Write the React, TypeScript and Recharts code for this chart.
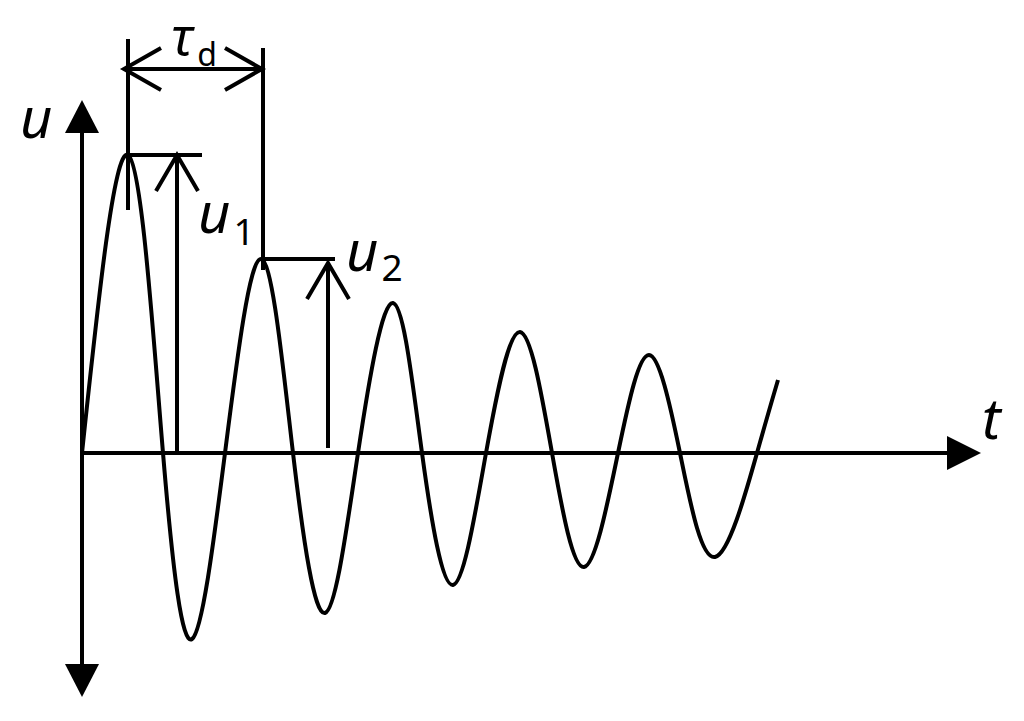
import { LineChart, Line, XAxis, YAxis, ReferenceLine, ReferenceDot } from "recharts";

// damped oscillation: peaks, troughs and zero crossings
const times = [0, 4.6, 8.1, 11.0, 14.3, 17.9, 21.1, 24.3, 27.6, 31.1, 34.0, 37.1, 40.4, 43.8, 47.0, 50.2, 53.6, 56.7, 59.8, 63.3, 67.5, 69.6];
const volts = [0, 29.8, 0, -18.6, 0, 19.4, 0, -16.0, 0, 15.0, 0, -13.2, 0, 12.1, 0, -11.4, 0, 9.8, 0, -10.4, 0, 7.3];

const data = times.map((t, i) => ({ t, u: volts[i] }));

// first two peaks used by the u1 / u2 / tau_d annotations
const peak1 = { t: 4.6, u: 29.8 };
const peak2 = { t: 17.9, u: 19.4 };

const INK = "#000";
const SW = 4;
const FONT = "'Noto Sans', 'Open Sans', sans-serif";

const Triangle = ({ cx, cy, dir }: any) => {
  let pts = "";
  if (dir === "up") pts = `${cx},${cy} ${cx - 17},${cy + 33} ${cx + 17},${cy + 33}`;
  if (dir === "down") pts = `${cx},${cy} ${cx - 17},${cy - 33} ${cx + 17},${cy - 33}`;
  if (dir === "right") pts = `${cx},${cy} ${cx - 34},${cy - 17} ${cx - 34},${cy + 17}`;
  return <polygon points={pts} fill={INK} />;
};

const Chevron = ({ cx, cy, dir }: any) => {
  let pts = "";
  if (dir === "up") pts = `${cx - 21},${cy + 36} ${cx},${cy} ${cx + 21},${cy + 36}`;
  if (dir === "left") pts = `${cx + 37},${cy - 21} ${cx},${cy} ${cx + 37},${cy + 21}`;
  if (dir === "right") pts = `${cx - 37},${cy - 21} ${cx},${cy} ${cx - 37},${cy + 21}`;
  return <polyline points={pts} fill="none" stroke={INK} strokeWidth={SW} strokeLinejoin="miter" />;
};

const Label = ({ cx, cy, main, sub, size = 56, subSize = 37, subDy = 12, subDx = 3 }: any) => (
  <text x={cx} y={cy} fontFamily={FONT} fill={INK}>
    <tspan fontSize={size} fontStyle="italic">{main}</tspan>
    {sub && (
      <tspan fontSize={subSize} dx={subDx} dy={subDy}>
        {sub}
      </tspan>
    )}
  </text>
);

export default function App() {
  return (
    <div style={{ position: "absolute", left: 0, top: 0, background: "#fff" }}>
      <LineChart width={1024} height={721} data={data} margin={{ top: 0, right: 0, bottom: 0, left: 0 }}>
        <XAxis dataKey="t" type="number" domain={[-8.2, 94.2]} allowDataOverflow hide />
        <YAxis type="number" domain={[-26.8, 45.3]} allowDataOverflow hide />

        <Line
          type="natural"
          dataKey="u"
          stroke={INK}
          strokeWidth={SW}
          dot={false}
          activeDot={false}
          isAnimationActive={false}
        />

        {/* axes */}
        <ReferenceLine segment={[{ x: 0, y: -21.1 }, { x: 0, y: 32.0 }]} stroke={INK} strokeWidth={SW} />
        <ReferenceLine segment={[{ x: -0.2, y: 0 }, { x: 86.5, y: 0 }]} stroke={INK} strokeWidth={SW} />
        <ReferenceDot x={0} y={35.3} shape={(p: any) => <Triangle {...p} dir="up" />} />
        <ReferenceDot x={0} y={-24.4} shape={(p: any) => <Triangle {...p} dir="down" />} />
        <ReferenceDot x={89.9} y={0} shape={(p: any) => <Triangle {...p} dir="right" />} />

        {/* tau_d dimension */}
        <ReferenceLine segment={[{ x: peak1.t, y: 24.3 }, { x: peak1.t, y: 41.4 }]} stroke={INK} strokeWidth={SW} />
        <ReferenceLine segment={[{ x: 18.1, y: 18.3 }, { x: 18.1, y: 40.5 }]} stroke={INK} strokeWidth={SW} />
        <ReferenceLine segment={[{ x: 4.2, y: 38.4 }, { x: 18.0, y: 38.4 }]} stroke={INK} strokeWidth={SW} />
        <ReferenceDot x={4.2} y={38.4} shape={(p: any) => <Chevron {...p} dir="left" />} />
        <ReferenceDot x={18.0} y={38.4} shape={(p: any) => <Chevron {...p} dir="right" />} />

        {/* u1 */}
        <ReferenceLine segment={[{ x: peak1.t, y: peak1.u }, { x: 12.0, y: peak1.u }]} stroke={INK} strokeWidth={SW} />
        <ReferenceLine segment={[{ x: 9.5, y: 0 }, { x: 9.5, y: peak1.u }]} stroke={INK} strokeWidth={SW} />
        <ReferenceDot x={9.5} y={peak1.u} shape={(p: any) => <Chevron {...p} dir="up" />} />

        {/* u2 */}
        <ReferenceLine segment={[{ x: peak2.t, y: peak2.u }, { x: 25.3, y: peak2.u }]} stroke={INK} strokeWidth={SW} />
        <ReferenceLine segment={[{ x: 24.6, y: 0.5 }, { x: 24.6, y: 19.0 }]} stroke={INK} strokeWidth={SW} />
        <ReferenceDot x={24.6} y={19.0} shape={(p: any) => <Chevron {...p} dir="up" />} />

        {/* labels */}
        <ReferenceDot x={-6.2} y={31.5} shape={(p: any) => <Label {...p} main="u" />} />
        <ReferenceDot x={90.0} y={1.4} shape={(p: any) => <Label {...p} main="t" />} />
        <ReferenceDot x={11.6} y={22.0} shape={(p: any) => <Label {...p} main="u" sub="1" />} />
        <ReferenceDot x={26.4} y={18.2} shape={(p: any) => <Label {...p} main="u" sub="2" subDy={10} />} />
        <ReferenceDot x={8.9} y={39.8} shape={(p: any) => <Label {...p} main="τ" sub="d" size={52} subSize={32} subDx={5} subDy={11} />} />
      </LineChart>
    </div>
  );
}
